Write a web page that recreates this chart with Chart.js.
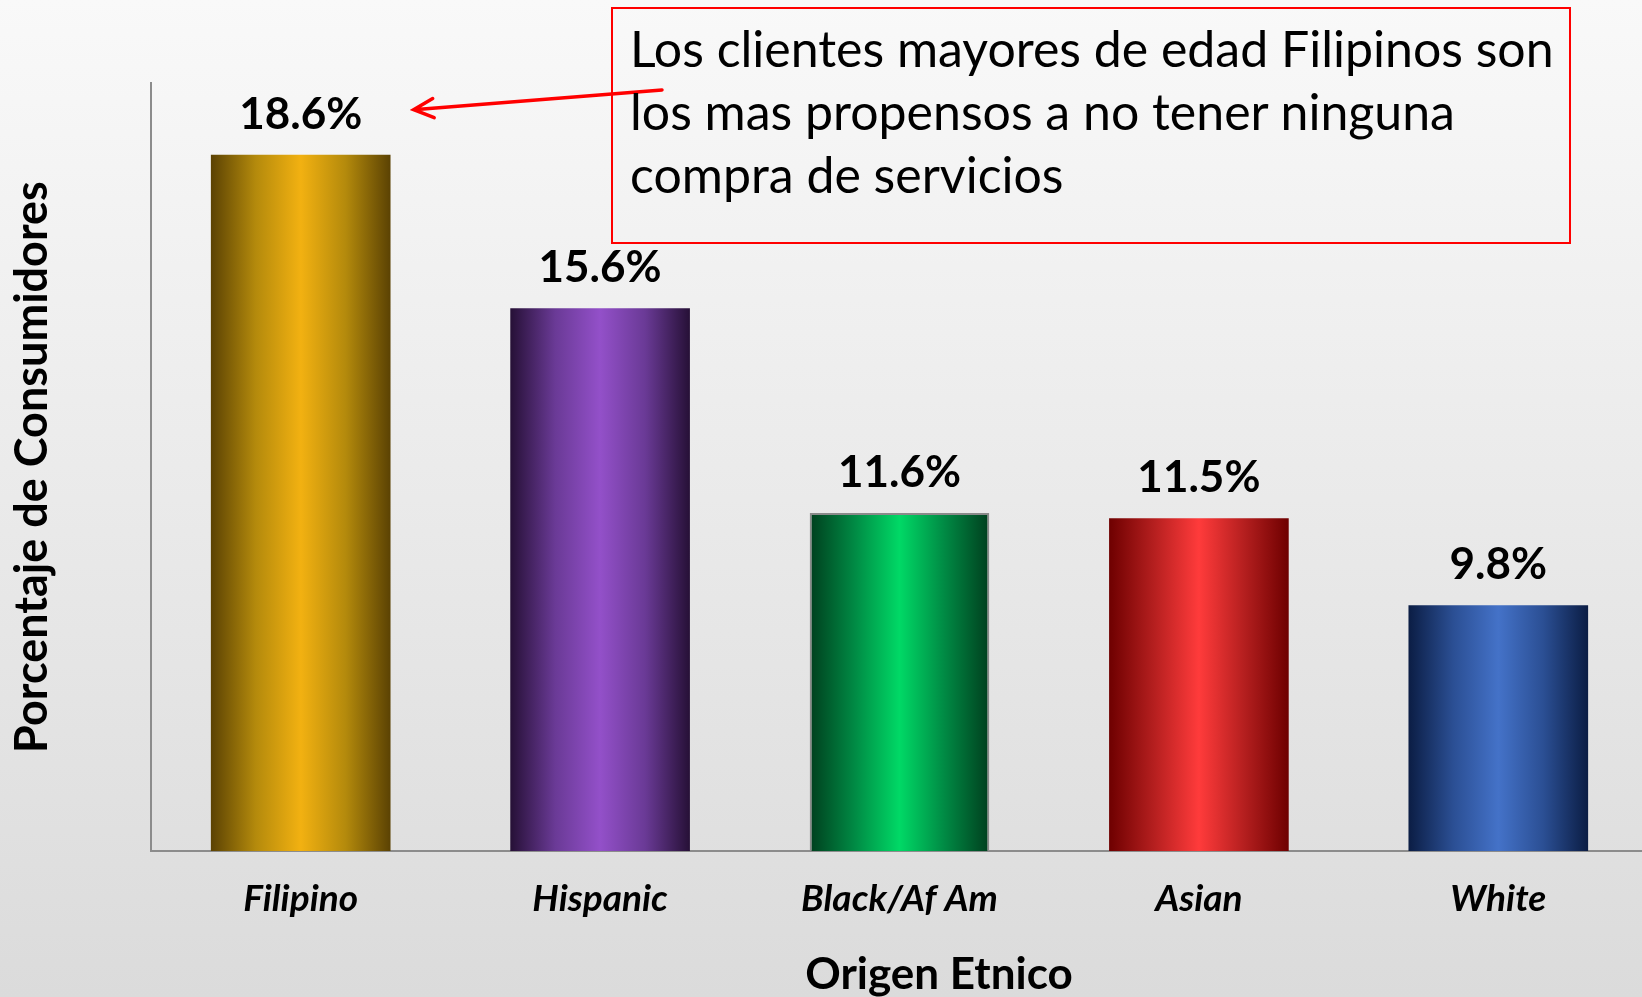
<!DOCTYPE html>
<html>
<head>
<meta charset="utf-8">
<script src="https://cdn.jsdelivr.net/npm/chart.js@4.4.1/dist/chart.umd.min.js"></script>
<style>
  html, body { margin: 0; padding: 0; width: 1642px; height: 997px; overflow: hidden; }
  body { position: relative; background: linear-gradient(#f9f9f9, #dbdbdb); font-family: Lato, sans-serif; }
  #chart { position: absolute; left: 0; top: 0; }
  #note {
    position: absolute; left: 611px; top: 7px; width: 960px; height: 237px;
    box-sizing: border-box; border: 2px solid #ff0000;
    padding: 8px 0 0 17px;
    font-family: Lato, sans-serif; font-size: 50px; line-height: 63px; color: #000;
    white-space: nowrap;
  }
</style>
</head>
<body>
<canvas id="chart" width="1660" height="997"></canvas>
<div id="note">Los clientes mayores de edad Filipinos son<br>los mas propensos a no tener ninguna<br>compra de servicios</div>
<script>
// data
const categories = ['Filipino', 'Hispanic', 'Black/Af Am', 'Asian', 'White'];
const values = [18.6, 15.6, 11.6, 11.5, 9.8];

// cylinder look: dark edge -> bright centre -> dark edge
const edgeColors = ['#5b4203', '#261036', '#003f1e', '#6e0000', '#0b1d44'];
const midColors = ['#b48a0c', '#6a3a96', '#008a44', '#b51f1f', '#2b4f94'];
const centerColors = ['#f2b111', '#9350c9', '#00d966', '#ff3b3b', '#4472c8'];

const BAR_PCT = 0.6;
const FONT = 'Lato, sans-serif';

function barGradient(c) {
  const chart = c.chart;
  const i = c.dataIndex;
  if (!chart.chartArea || c.type !== 'data') return centerColors[i];
  const xs = chart.scales.x;
  const cx = xs.getPixelForValue(i);
  const w = xs.width / categories.length * BAR_PCT;
  const g = chart.ctx.createLinearGradient(cx - w / 2, 0, cx + w / 2, 0);
  g.addColorStop(0, edgeColors[i]);
  g.addColorStop(0.25, midColors[i]);
  g.addColorStop(0.5, centerColors[i]);
  g.addColorStop(0.75, midColors[i]);
  g.addColorStop(1, edgeColors[i]);
  return g;
}

const extras = {
  id: 'extras',
  afterDatasetsDraw(chart) {
    const ctx = chart.ctx;
    ctx.save();
    ctx.fillStyle = '#000';
    ctx.font = 'bold 44px ' + FONT;
    ctx.textAlign = 'center';
    ctx.textBaseline = 'alphabetic';
    chart.getDatasetMeta(0).data.forEach((bar, i) => {
      ctx.fillText(values[i].toFixed(1) + '%', bar.x, bar.y - 26);
    });
    ctx.restore();
  },
  afterDraw(chart) {
    const ctx = chart.ctx;
    const area = chart.chartArea;
    ctx.save();
    // x axis title
    ctx.fillStyle = '#000';
    ctx.font = 'bold 44px ' + FONT;
    ctx.textAlign = 'center';
    ctx.textBaseline = 'middle';
    ctx.fillText('Origen Etnico', area.left + 788, 975);

    // arrow from the note to the first label
    const first = chart.getDatasetMeta(0).data[0];
    const tipX = first.x + 113, tipY = first.y - 45;
    const tailX = 662, tailY = 90;
    const ang = Math.atan2(tailY - tipY, tailX - tipX);
    ctx.strokeStyle = '#ff0000';
    ctx.lineWidth = 3.5;
    ctx.lineCap = 'round';
    ctx.beginPath();
    ctx.moveTo(tailX, tailY);
    ctx.lineTo(tipX, tipY);
    ctx.moveTo(tipX + 22 * Math.cos(ang - 0.45), tipY + 22 * Math.sin(ang - 0.45));
    ctx.lineTo(tipX, tipY);
    ctx.lineTo(tipX + 22 * Math.cos(ang + 0.45), tipY + 22 * Math.sin(ang + 0.45));
    ctx.stroke();
    ctx.restore();
  }
};

new Chart(document.getElementById('chart'), {
  type: 'bar',
  data: {
    labels: categories,
    datasets: [{
      data: values,
      backgroundColor: barGradient,
      borderColor: '#8a8a8a',
      borderWidth: [0, 0, 2, 0, 0],
      categoryPercentage: 1,
      barPercentage: BAR_PCT
    }]
  },
  options: {
    responsive: false,
    animation: false,
    events: [],
    layout: { padding: { top: 83, right: 12, left: 0, bottom: 0 } },
    plugins: { legend: { display: false }, tooltip: { enabled: false } },
    scales: {
      x: {
        grid: { display: false, drawTicks: false },
        border: { display: true, color: '#8c8c8c', width: 2 },
        ticks: {
          color: '#000',
          padding: 26,
          font: { family: FONT, size: 37, weight: 'bold', style: 'italic' }
        },
        afterFit: s => { s.height = 146; }
      },
      y: {
        min: 5,
        max: 20,
        grid: { display: false, drawTicks: false },
        border: { display: true, color: '#8c8c8c', width: 2 },
        ticks: { display: false },
        title: {
          display: true,
          text: 'Porcentaje de Consumidores',
          color: '#000',
          padding: { top: 5, bottom: 0 },
          font: { family: FONT, size: 45, weight: 'bold' }
        },
        afterFit: s => { s.width = 151; }
      }
    }
  },
  plugins: [extras]
});
</script>
</body>
</html>
